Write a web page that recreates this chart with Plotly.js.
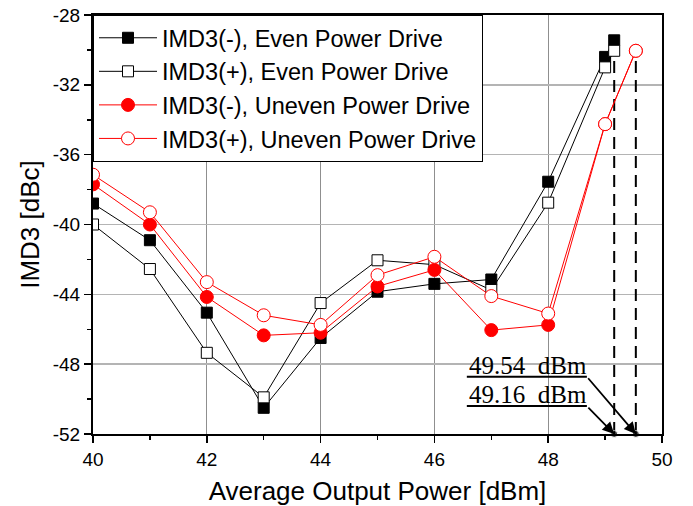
<!DOCTYPE html>
<html>
<head>
<meta charset="utf-8">
<script src="https://cdn.plot.ly/plotly-3.0.1.min.js"></script>
<style>html,body{margin:0;padding:0;background:#fff;}#chart{width:693px;height:506px;}</style>
</head>
<body>
<div id="chart"></div>
<script>
// ---- data ----
const xEven = [40, 41, 42, 43, 44, 45, 46, 47, 48, 49, 49.16];
const imdMinusEven = [-38.8, -40.9, -45.05, -50.5, -46.5, -43.85, -43.4, -43.15, -37.55, -30.4, -29.45];
const imdPlusEven  = [-40.0, -42.55, -47.35, -49.9, -44.5, -42.05, -42.3, -43.75, -38.75, -31.0, -30.05];

const xUneven = [40, 41, 42, 43, 44, 45, 46, 47, 48, 49, 49.54];
const imdMinusUneven = [-37.7, -40.0, -44.15, -46.35, -46.2, -43.55, -42.6, -46.05, -45.75, -34.25, -30.05];
const imdPlusUneven  = [-37.15, -39.3, -43.3, -45.2, -45.75, -42.9, -41.85, -44.1, -45.1, -34.25, -30.05];

const seriesNames = [
  'IMD3(-), Even Power Drive',
  'IMD3(+), Even Power Drive',
  'IMD3(-), Uneven Power Drive',
  'IMD3(+), Uneven Power Drive'
];

const xTickVals = [40, 42, 44, 46, 48, 50];
const xTickText = ['40', '42', '44', '46', '48', '50'];
const yTickVals = [-52, -48, -44, -40, -36, -32, -28];
const yTickText = ['-52', '-48', '-44', '-40', '-36', '-32', '-28'];
const xRange = [40, 50];
const yRange = [-52, -28];

// ---- derived ----
const evenMaxX = xEven[xEven.length - 1];
const unevenMaxX = xUneven[xUneven.length - 1];
const evenTopY = imdPlusEven[imdPlusEven.length - 1];
const unevenTopY = imdPlusUneven[imdPlusUneven.length - 1];

const FONT = 'Liberation Sans, Arial, sans-serif';
const SERIF = 'Liberation Serif, Times New Roman, serif';

const traces = [
  {x: [evenMaxX, evenMaxX], y: [yRange[0], evenTopY], mode: 'lines+markers', showlegend: false, hoverinfo: 'skip',
   line: {color: 'black', width: 2, dash: '12px,7px'}, marker: {size: [7, 0], color: 'black'}, cliponaxis: false},
  {x: [unevenMaxX, unevenMaxX], y: [yRange[0], unevenTopY], mode: 'lines+markers', showlegend: false, hoverinfo: 'skip',
   line: {color: 'black', width: 2, dash: '12px,7px'}, marker: {size: [7, 0], color: 'black'}, cliponaxis: false},
  {x: xEven, y: imdMinusEven, name: seriesNames[0], mode: 'lines+markers',
   line: {color: 'black', width: 1}, marker: {symbol: 'square', size: 11, color: 'black', line: {color: 'black', width: 1}}},
  {x: xEven, y: imdPlusEven, name: seriesNames[1], mode: 'lines+markers',
   line: {color: 'black', width: 1}, marker: {symbol: 'square', size: 11, color: 'white', line: {color: 'black', width: 1}}},
  {x: xUneven, y: imdMinusUneven, name: seriesNames[2], mode: 'lines+markers',
   line: {color: '#ff0000', width: 1}, marker: {symbol: 'circle', size: 13, color: '#ff0000', line: {color: '#ff0000', width: 1}}},
  {x: xUneven, y: imdPlusUneven, name: seriesNames[3], mode: 'lines+markers',
   line: {color: '#ff0000', width: 1}, marker: {symbol: 'circle', size: 13, color: 'white', line: {color: '#ff0000', width: 1}}}
];

const labelLeft = 46.57, labelRight = 48.68;
const line1Y = -48.72, line2Y = -50.4;

const layout = {
  width: 693, height: 506,
  margin: {l: 93, r: 31, t: 15, b: 72},
  paper_bgcolor: 'white', plot_bgcolor: 'white',
  font: {family: FONT, color: 'black', size: 19},
  showlegend: true,
  legend: {x: 0, y: 1, xanchor: 'left', yanchor: 'top', bgcolor: 'white', bordercolor: 'black', borderwidth: 1,
           font: {family: FONT, size: 23.5, color: 'black'}, itemwidth: 58, tracegroupgap: 0},
  xaxis: {
    range: xRange, tickmode: 'array', tickvals: xTickVals, ticktext: xTickText,
    ticks: 'outside', ticklen: 7, tickwidth: 1.5, tickcolor: 'black',
    showline: true, linecolor: 'black', linewidth: 2, mirror: true,
    showgrid: true, gridcolor: '#8f8f8f', gridwidth: 1, zeroline: false,
    tickfont: {family: FONT, size: 19},
    minor: {dtick: 1, tick0: 40, ticks: 'outside', ticklen: 4, tickcolor: 'black', tickwidth: 1.5, showgrid: false},
    title: {text: 'Average Output Power [dBm]', font: {family: FONT, size: 26}, standoff: 13}
  },
  yaxis: {
    range: yRange, tickmode: 'array', tickvals: yTickVals, ticktext: yTickText,
    ticks: 'outside', ticklen: 7, tickwidth: 1.5, tickcolor: 'black',
    showline: true, linecolor: 'black', linewidth: 2, mirror: true,
    showgrid: true, gridcolor: '#b4b4b4', gridwidth: 1.5, zeroline: false,
    tickfont: {family: FONT, size: 19},
    minor: {dtick: 2, tick0: -52, ticks: 'outside', ticklen: 4, tickcolor: 'black', tickwidth: 1.5, showgrid: false},
    title: {text: 'IMD3 [dBc]', font: {family: FONT, size: 26}, standoff: 6}
  },
  shapes: [
    {type: 'line', xref: 'x', yref: 'y', x0: labelLeft, x1: labelRight, y0: line1Y, y1: line1Y, line: {color: 'black', width: 2}},
    {type: 'line', xref: 'x', yref: 'y', x0: labelLeft, x1: labelRight, y0: line2Y, y1: line2Y, line: {color: 'black', width: 2}}
  ],
  annotations: [
    {x: labelLeft, y: line1Y, xref: 'x', yref: 'y', xanchor: 'left', yanchor: 'bottom', yshift: -4, showarrow: false,
     text: unevenMaxX.toFixed(2) + '\u00a0\u00a0dBm', font: {family: SERIF, size: 25, color: 'black'}},
    {x: labelLeft, y: line2Y, xref: 'x', yref: 'y', xanchor: 'left', yanchor: 'bottom', yshift: -4, showarrow: false,
     text: evenMaxX.toFixed(2) + '\u00a0\u00a0dBm', font: {family: SERIF, size: 25, color: 'black'}},
    {x: unevenMaxX, y: yRange[0], xref: 'x', yref: 'y', ax: labelRight, ay: line1Y, axref: 'x', ayref: 'y',
     text: '', showarrow: true, arrowhead: 2, arrowsize: 1.3, arrowwidth: 1.8, arrowcolor: 'black', standoff: 0},
    {x: evenMaxX, y: yRange[0], xref: 'x', yref: 'y', ax: labelRight, ay: line2Y, axref: 'x', ayref: 'y',
     text: '', showarrow: true, arrowhead: 2, arrowsize: 1.3, arrowwidth: 1.8, arrowcolor: 'black', standoff: 0}
  ]
};

Plotly.newPlot('chart', traces, layout, {displayModeBar: false, staticPlot: true});
</script>
</body>
</html>
